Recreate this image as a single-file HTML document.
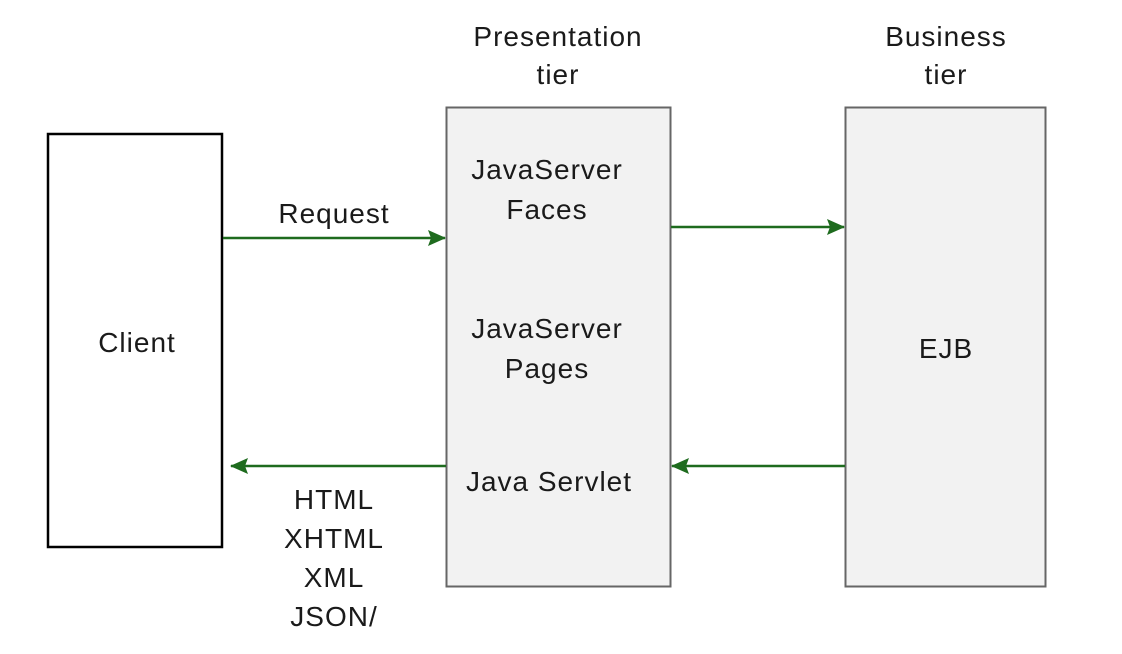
<!DOCTYPE html>
<html><head><style>
body{margin:0;background:#fff;width:1122px;height:649px;overflow:hidden;}
svg text{font-family:"Liberation Sans",sans-serif;font-size:28px;letter-spacing:1px;fill:#1a1a1a;text-anchor:middle;}
</style></head><body>
<svg width="1122" height="649" viewBox="0 0 1122 649">
<defs>
<marker id="b" markerWidth="18" markerHeight="16" refX="17" refY="8" orient="auto" markerUnits="userSpaceOnUse"><path d="M0,0 L18,8 L0,16 L3,8 z" fill="#1e6b1e"/></marker></defs>
<rect x="48" y="134" width="174" height="413" fill="#fff" stroke="#000" stroke-width="2.5"/>
<rect x="446.5" y="107.5" width="224" height="479" fill="#f2f2f2" stroke="#666" stroke-width="2"/>
<rect x="845.5" y="107.5" width="200" height="479" fill="#f2f2f2" stroke="#666" stroke-width="2"/>
<g stroke="#1e6b1e" stroke-width="2.5" fill="none">
<line x1="223" y1="238" x2="445" y2="238" marker-end="url(#b)"/>
<line x1="671" y1="227" x2="844" y2="227" marker-end="url(#b)"/>
<line x1="446" y1="466" x2="231" y2="466" marker-end="url(#b)"/>
<line x1="845" y1="466" x2="672" y2="466" marker-end="url(#b)"/>
</g>
<text x="558" y="46">Presentation</text><text x="558" y="84">tier</text>
<text x="946" y="46">Business</text><text x="946" y="84">tier</text>
<text x="334" y="223">Request</text>
<text x="137" y="352">Client</text>
<text x="547" y="179">JavaServer</text><text x="547" y="219">Faces</text>
<text x="547" y="338">JavaServer</text><text x="547" y="378">Pages</text>
<text x="549" y="491">Java Servlet</text>
<text x="946" y="358">EJB</text>
<text x="334" y="509">HTML</text><text x="334" y="548">XHTML</text><text x="334" y="587">XML</text><text x="334" y="626">JSON/</text>
</svg>
</body></html>
